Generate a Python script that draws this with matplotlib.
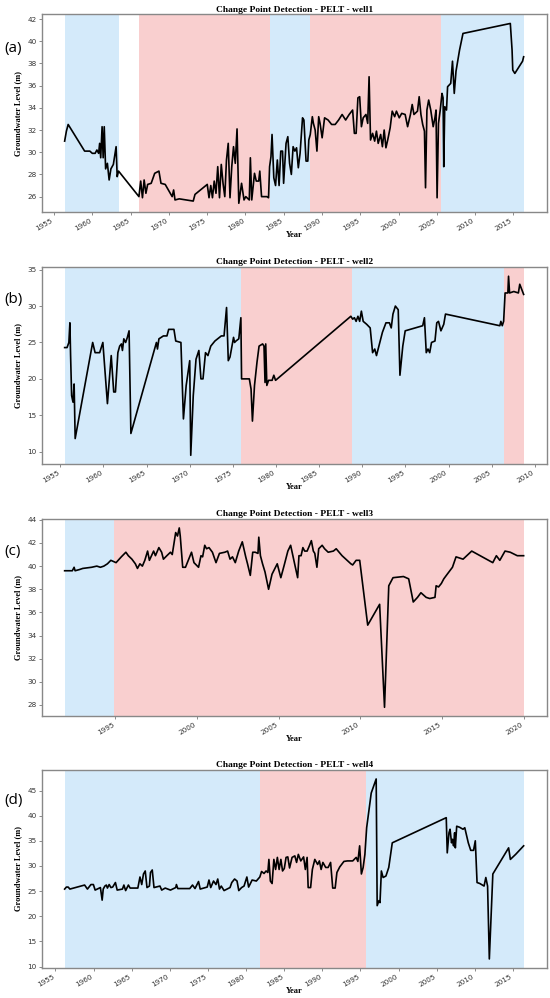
import numpy as np
import matplotlib
matplotlib.use('Agg')
import matplotlib.pyplot as plt
from matplotlib.ticker import MultipleLocator

# ---- well1 ----
years1 = [1956.4, 1956.63, 1956.86, 1959.01, 1959.69, 1960.01, 1960.38, 1960.61, 1960.84, 1960.97,
          1961.11, 1961.29, 1961.43, 1961.57, 1961.75, 1961.98, 1962.21, 1962.44, 1962.76, 1963.12,
          1963.26, 1963.44, 1966.1, 1966.33, 1966.56, 1966.78, 1967.01, 1967.24, 1967.7, 1968.16,
          1968.71, 1968.98, 1969.53, 1970.44, 1970.63, 1970.81, 1971.36, 1972.27, 1973.19, 1973.42,
          1975.02, 1975.25, 1975.48, 1975.7, 1975.93, 1976.16, 1976.39, 1976.62, 1976.85, 1977.08,
          1977.31, 1977.53, 1977.76, 1977.99, 1978.22, 1978.45, 1978.68, 1978.91, 1979.14, 1979.5,
          1979.82, 1980.05, 1980.51, 1980.65, 1980.83, 1981.19, 1981.42, 1981.74, 1981.88, 1982.11,
          1982.8, 1983.02, 1983.16, 1983.34, 1983.48, 1983.71, 1983.94, 1984.17, 1984.4, 1984.62,
          1984.85, 1984.99, 1985.31, 1985.54, 1985.77, 1986.0, 1986.23, 1986.46, 1986.68, 1986.91,
          1987.14, 1987.46, 1987.64, 1987.92, 1988.15, 1988.28, 1988.47, 1988.74, 1988.88, 1989.11,
          1989.34, 1989.57, 1989.75, 1990.02, 1990.34, 1990.8, 1991.26, 1991.72, 1992.17, 1992.63,
          1993.09, 1993.55, 1994.0, 1994.23, 1994.46, 1994.69, 1994.92, 1995.15, 1995.38, 1995.74,
          1995.97, 1996.15, 1996.34, 1996.61, 1996.88, 1997.11, 1997.34, 1997.66, 1997.89, 1998.12,
          1998.35, 1998.58, 1998.9, 1999.17, 1999.49, 1999.72, 2000.09, 2000.41, 2000.86, 2001.18,
          2001.55, 2001.78, 2002.01, 2002.47, 2002.69, 2002.92, 2003.15, 2003.38, 2003.52, 2003.7,
          2003.93, 2004.2, 2004.52, 2004.75, 2004.89, 2005.03, 2005.21, 2005.44, 2005.67, 2005.81,
          2005.9, 2006.03, 2006.26, 2006.4, 2006.81, 2007.04, 2007.27, 2007.5, 2007.96, 2008.41,
          2014.59, 2014.82, 2014.91, 2015.18, 2016.19, 2016.33]
level1 = [31.0, 31.9, 32.5, 30.1, 30.1, 29.9, 29.9, 30.2, 29.9, 30.8,
          29.5, 32.3, 29.5, 32.3, 28.5, 29.0, 27.5, 28.5, 28.9, 30.5,
          27.8, 28.3, 26.0, 27.4, 25.9, 27.5, 26.3, 27.1, 27.2, 28.1,
          28.3, 27.2, 27.1, 26.0, 26.6, 25.7, 25.8, 25.7, 25.6, 26.2,
          27.1, 25.9, 27.0, 25.9, 27.4, 26.3, 28.7, 25.9, 28.9, 27.2,
          26.0, 29.3, 30.8, 25.9, 28.7, 30.5, 29.0, 32.1, 25.4, 27.2,
          25.7, 26.0, 25.7, 29.5, 25.7, 28.1, 27.4, 27.4, 28.3, 26.0,
          26.0, 25.9, 28.7, 29.6, 31.6, 27.7, 27.0, 29.3, 27.0, 30.1,
          30.1, 27.2, 30.8, 31.4, 29.0, 28.0, 30.5, 30.1, 30.4, 28.6,
          29.9, 33.1, 32.9, 29.2, 29.2, 31.1, 31.6, 33.2, 32.6, 32.0,
          30.1, 33.2, 32.6, 31.3, 33.1, 32.9, 32.5, 32.5, 32.9, 33.4,
          32.9, 33.4, 33.8, 31.7, 31.7, 34.9, 35.0, 32.3, 33.1, 33.4,
          32.6, 36.8, 31.1, 31.7, 31.0, 31.9, 30.8, 31.6, 30.5, 32.0,
          30.4, 31.1, 32.2, 33.7, 33.2, 33.7, 33.1, 33.5, 33.4, 32.3,
          33.4, 34.3, 33.4, 33.7, 35.0, 33.4, 32.5, 31.9, 26.8, 33.8,
          34.7, 33.8, 32.3, 33.1, 33.8, 25.9, 32.6, 33.8, 35.3, 34.9,
          28.7, 34.1, 33.8, 35.9, 36.2, 38.2, 35.3, 37.3, 39.2, 40.7,
          41.6, 39.2, 37.4, 37.1, 38.2, 38.6]
span_start1 = [1956.4, 1966.14, 1983.16, 1988.47, 2005.53]
span_end1 = [1963.44, 1983.16, 1988.47, 2005.53, 2016.33]
span_kind1 = ['b', 'r', 'b', 'r', 'b']

# ---- well2 ----
years2 = [1955.5, 1955.78, 1955.99, 1956.11, 1956.19, 1956.31, 1956.47, 1956.6, 1956.72, 1958.75,
          1959.03, 1959.56, 1959.93, 1960.46, 1960.9, 1961.19, 1961.39, 1961.67, 1961.88, 1962.08,
          1962.2, 1962.36, 1962.57, 1962.77, 1962.97, 1963.18, 1966.14, 1966.26, 1966.43, 1966.95,
          1967.36, 1967.56, 1968.17, 1968.38, 1968.98, 1969.27, 1969.59, 1970.0, 1970.12, 1970.41,
          1970.73, 1971.06, 1971.3, 1971.54, 1971.83, 1972.11, 1972.44, 1972.92, 1973.66, 1973.98,
          1974.27, 1974.47, 1974.67, 1975.08, 1975.2, 1975.36, 1975.69, 1975.93, 1976.01, 1976.91,
          1977.11, 1977.27, 1977.51, 1977.8, 1978.04, 1978.45, 1978.61, 1978.73, 1978.81, 1978.94,
          1979.14, 1979.55, 1979.75, 1979.95, 1988.68, 1988.89, 1989.09, 1989.29, 1989.5, 1989.7,
          1989.9, 1990.11, 1990.51, 1990.92, 1991.2, 1991.45, 1991.65, 1991.93, 1992.34, 1992.75,
          1993.15, 1993.36, 1993.56, 1993.84, 1994.17, 1994.37, 1994.7, 1994.98, 1997.01, 1997.21,
          1997.42, 1997.62, 1997.82, 1998.03, 1998.43, 1998.64, 1998.84, 1999.12, 1999.45, 1999.65,
          2005.95, 2006.07, 2006.23, 2006.39, 2006.56, 2006.88, 2006.96, 2007.08, 2007.57, 2008.1,
          2008.26, 2008.71]
level2 = [24.3, 24.3, 25.0, 27.7, 23.2, 17.7, 16.8, 19.3, 11.8, 25.0,
          23.6, 23.6, 25.0, 16.6, 23.2, 18.2, 18.2, 23.6, 24.5, 24.8,
          23.9, 25.5, 25.0, 25.7, 26.6, 12.5, 25.0, 24.1, 25.5, 25.9,
          25.9, 26.8, 26.8, 25.2, 25.0, 14.5, 19.1, 22.5, 9.5, 17.7,
          22.7, 23.9, 20.0, 20.0, 23.6, 23.2, 24.5, 25.2, 25.9, 25.9,
          29.8, 22.5, 23.0, 25.7, 25.0, 25.2, 25.5, 28.4, 20.0, 20.0,
          18.6, 14.2, 19.1, 22.3, 24.5, 24.8, 24.5, 19.5, 24.8, 19.1,
          19.8, 19.8, 20.5, 19.8, 28.6, 28.2, 28.4, 27.9, 28.6, 27.9,
          29.3, 27.9, 27.5, 27.0, 23.6, 24.1, 23.2, 24.5, 26.4, 27.7,
          27.7, 27.0, 28.9, 30.0, 29.5, 20.5, 24.5, 26.6, 27.3, 28.4,
          23.6, 24.1, 23.6, 25.0, 25.2, 27.7, 27.9, 26.6, 27.5, 28.9,
          27.3, 27.9, 27.3, 27.9, 31.8, 31.8, 34.1, 31.8, 32.0, 31.8,
          33.0, 31.6]
span_start2 = [1955.5, 1976.0, 1988.8, 2006.4]
span_end2 = [1976.0, 1988.8, 2006.4, 2008.71]
span_kind2 = ['b', 'r', 'b', 'r']

# ---- well3 ----
years3 = [1991.89, 1992.36, 1992.47, 1992.53, 1992.79, 1993.0, 1993.54, 1993.86, 1994.08, 1994.29,
          1994.51, 1994.72, 1995.04, 1995.36, 1995.64, 1995.79, 1996.01, 1996.22, 1996.35, 1996.5,
          1996.65, 1996.8, 1996.97, 1997.08, 1997.34, 1997.45, 1997.66, 1997.83, 1997.94, 1998.15,
          1998.37, 1998.48, 1998.69, 1998.8, 1998.91, 1998.97, 1999.12, 1999.29, 1999.66, 1999.81,
          2000.09, 2000.24, 2000.34, 2000.47, 2000.58, 2000.73, 2000.94, 2001.16, 2001.37, 2001.7,
          2001.87, 2002.02, 2002.17, 2002.34, 2002.55, 2002.77, 2002.98, 2003.09, 2003.26, 2003.41,
          2003.56, 2003.73, 2003.78, 2003.88, 2004.01, 2004.16, 2004.38, 2004.59, 2004.91, 2005.13,
          2005.34, 2005.56, 2005.73, 2005.99, 2006.16, 2006.24, 2006.37, 2006.48, 2006.59, 2006.74,
          2006.89, 2007.0, 2007.12, 2007.21, 2007.34, 2007.45, 2007.66, 2007.81, 2008.03, 2008.35,
          2008.52, 2008.88, 2009.42, 2009.53, 2009.74, 2009.96, 2010.45, 2011.18, 2011.48, 2011.74,
          2012.0, 2012.64, 2012.96, 2013.24, 2013.5, 2013.71, 2014.03, 2014.25, 2014.57, 2014.64,
          2014.79, 2014.96, 2015.11, 2015.32, 2015.64, 2015.86, 2016.29, 2016.82, 2018.11, 2018.33,
          2018.54, 2018.86, 2019.18, 2019.61, 2020.0]
level3 = [39.6, 39.6, 39.9, 39.6, 39.7, 39.8, 39.9, 40.0, 39.9, 40.0,
          40.2, 40.5, 40.3, 40.8, 41.2, 40.9, 40.6, 40.2, 39.8, 40.2,
          40.0, 40.5, 41.3, 40.5, 41.3, 40.9, 41.6, 41.2, 40.6, 40.9,
          41.2, 41.0, 42.9, 42.6, 43.3, 42.6, 39.9, 39.9, 41.2, 40.3,
          39.9, 40.9, 40.8, 41.8, 41.5, 41.6, 41.2, 40.3, 41.1, 41.2,
          41.3, 40.6, 40.8, 40.3, 41.3, 42.1, 40.8, 40.2, 39.2, 41.2,
          41.2, 41.1, 42.5, 40.9, 40.2, 39.5, 38.0, 39.3, 40.2, 39.0,
          40.1, 41.3, 41.8, 40.1, 39.0, 40.9, 40.9, 41.6, 41.3, 41.3,
          41.8, 42.2, 41.3, 41.1, 39.9, 41.5, 41.8, 41.5, 41.2, 41.3,
          41.5, 40.9, 40.2, 40.1, 40.5, 40.5, 34.9, 36.7, 27.8, 38.3,
          39.0, 39.1, 38.9, 36.9, 37.3, 37.7, 37.3, 37.2, 37.3, 38.3,
          38.2, 38.5, 38.9, 39.3, 39.9, 40.8, 40.6, 41.3, 40.3, 40.9,
          40.5, 41.3, 41.2, 40.9, 40.9]
span_start3 = [1991.89, 1994.94]
span_end3 = [1994.94, 2020.0]
span_kind3 = ['b', 'r']

# ---- well4 ----
years4 = [1956.2, 1956.43, 1956.66, 1956.89, 1958.82, 1959.19, 1959.65, 1959.97, 1960.2, 1960.89,
          1961.12, 1961.26, 1961.48, 1961.67, 1961.81, 1962.04, 1962.27, 1962.5, 1962.86, 1963.09,
          1963.78, 1963.97, 1964.2, 1964.56, 1964.79, 1965.8, 1966.08, 1966.31, 1966.54, 1966.77,
          1967.0, 1967.32, 1967.46, 1967.69, 1967.92, 1968.7, 1968.93, 1969.39, 1970.08, 1970.77,
          1970.86, 1971.04, 1972.61, 1972.97, 1973.3, 1973.76, 1973.98, 1974.9, 1975.13, 1975.36,
          1975.73, 1976.05, 1976.28, 1976.51, 1976.74, 1977.11, 1977.89, 1978.12, 1978.49, 1978.81,
          1979.04, 1979.41, 1979.73, 1980.1, 1980.33, 1980.79, 1981.34, 1981.8, 1982.03, 1982.35,
          1982.62, 1982.85, 1982.99, 1983.18, 1983.41, 1983.64, 1983.87, 1984.1, 1984.33, 1984.56,
          1984.78, 1985.01, 1985.24, 1985.47, 1985.7, 1986.03, 1986.39, 1986.62, 1986.85, 1987.17,
          1987.54, 1987.77, 1988.0, 1988.14, 1988.46, 1988.69, 1989.01, 1989.38, 1989.61, 1989.84,
          1990.07, 1990.44, 1990.76, 1991.08, 1991.36, 1991.68, 1991.91, 1992.28, 1992.83, 1993.29,
          1993.98, 1994.44, 1994.66, 1994.89, 1995.12, 1995.35, 1995.58, 1995.81, 1996.41, 1997.06,
          1997.19, 1997.42, 1997.56, 1997.74, 1997.97, 1998.34, 1998.71, 1999.17, 2006.25, 2006.38,
          2006.61, 2006.75, 2006.94, 2007.07, 2007.21, 2007.35, 2007.44, 2007.62, 2007.99, 2008.45,
          2008.68, 2009.14, 2009.46, 2009.83, 2010.06, 2010.29, 2010.66, 2011.21, 2011.44, 2011.67,
          2011.9, 2012.36, 2014.43, 2014.66, 2015.35, 2016.4]
level4 = [25.4, 25.8, 25.8, 25.4, 26.2, 25.4, 26.3, 26.3, 25.2, 25.7,
          23.2, 25.4, 26.0, 26.2, 25.6, 26.3, 25.7, 25.8, 26.7, 25.2,
          25.4, 26.2, 25.1, 26.2, 25.6, 25.6, 27.8, 26.3, 28.4, 29.0,
          25.7, 26.0, 28.7, 29.2, 25.7, 26.0, 25.2, 25.6, 25.2, 25.7,
          26.3, 25.5, 25.5, 26.2, 25.5, 26.9, 25.4, 25.8, 27.2, 25.7,
          27.0, 26.3, 27.4, 25.4, 26.0, 25.1, 25.7, 26.7, 27.4, 27.0,
          25.1, 25.7, 26.0, 27.8, 25.8, 27.2, 27.0, 27.8, 28.9, 28.5,
          29.0, 28.7, 31.3, 27.0, 26.5, 31.3, 29.3, 31.7, 29.3, 31.3,
          29.0, 29.5, 31.7, 31.8, 29.6, 31.7, 32.0, 30.7, 32.3, 31.0,
          31.8, 29.3, 31.7, 25.7, 25.7, 29.3, 31.3, 30.3, 31.0, 29.3,
          30.7, 29.7, 29.7, 30.7, 25.6, 25.6, 28.7, 29.8, 30.9, 31.0,
          31.0, 31.7, 30.9, 34.0, 28.4, 29.7, 32.3, 37.6, 44.5, 47.3,
          22.1, 23.1, 22.7, 29.0, 27.7, 28.0, 29.7, 34.6, 39.6, 32.6,
          36.6, 37.3, 34.6, 35.3, 34.0, 36.6, 33.6, 37.9, 37.7, 37.3,
          37.6, 34.6, 33.1, 33.1, 35.0, 26.7, 26.5, 26.0, 27.7, 26.0,
          11.5, 28.4, 33.6, 31.3, 32.3, 34.0]
span_start4 = [1956.2, 1981.8, 1995.72]
span_end4 = [1981.8, 1995.72, 2016.4]
span_kind4 = ['b', 'r', 'b']

wells = ['well1', 'well2', 'well3', 'well4']
panel_tags = ['(a)', '(b)', '(c)', '(d)']
all_years = [years1, years2, years3, years4]
all_levels = [level1, level2, level3, level4]
all_starts = [span_start1, span_start2, span_start3, span_start4]
all_ends = [span_end1, span_end2, span_end3, span_end4]
all_kinds = [span_kind1, span_kind2, span_kind3, span_kind4]
ystep = [2, 5, 2, 5]

span_col = {'b': '#d4eafa', 'r': '#f9cfcf'}

fig = plt.figure(figsize=(5.5, 9.98), dpi=100)
# axes boxes (left, bottom, width, height) in figure fraction
boxes = [[0.0758, 0.7873, 0.918, 0.1982],
         [0.0758, 0.5348, 0.918, 0.1974],
         [0.0758, 0.2823, 0.918, 0.1977],
         [0.0758, 0.0301, 0.918, 0.1984]]
tag_y = [0.951, 0.700, 0.447, 0.198]

for i in range(4):
    ax = fig.add_axes(boxes[i])
    for s, e, k in zip(all_starts[i], all_ends[i], all_kinds[i]):
        ax.axvspan(s, e, color=span_col[k], lw=0, zorder=0)
    ax.plot(all_years[i], all_levels[i], color='black', lw=1.2, zorder=2)
    ax.margins(x=0.05, y=0.05)
    ax.xaxis.set_major_locator(MultipleLocator(5))
    ax.yaxis.set_major_locator(MultipleLocator(ystep[i]))
    ax.tick_params(labelsize=5.2, colors='#333333', length=2.5, width=0.6, pad=1.2)
    ax.tick_params(axis='x', color='#777777')
    ax.tick_params(axis='y', color='#777777')
    for lab in ax.get_xticklabels():
        lab.set_rotation(30)
        lab.set_ha('right')
    for sp in ax.spines.values():
        sp.set_color('#888888')
        sp.set_linewidth(1.0)
    ax.set_title('Change Point Detection - PELT - ' + wells[i], family='Liberation Serif',
                 weight='bold', fontsize=6.8, pad=2)
    ax.set_xlabel('Year', family='Liberation Serif', weight='bold', fontsize=6, labelpad=-0.5)
    ax.set_ylabel('Groundwater Level (m)', family='Liberation Serif', weight='bold',
                  fontsize=6, labelpad=4)
    fig.text(0.008, tag_y[i], panel_tags[i], family='Open Sans', fontsize=11, va='center')

fig.savefig('out.png', dpi=100)
plt.close(fig)
